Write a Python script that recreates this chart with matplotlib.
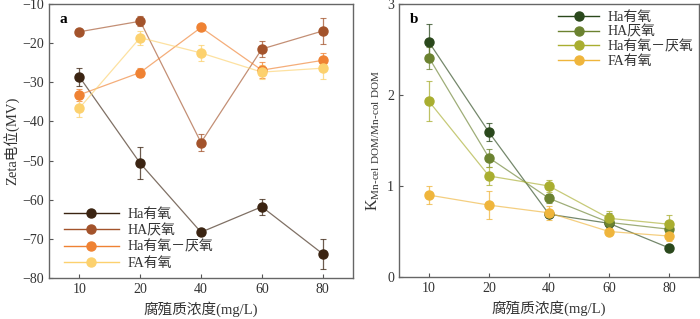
import matplotlib
matplotlib.use("Agg")
import matplotlib.pyplot as plt
from matplotlib.lines import Line2D
import numpy as np

plt.rcParams['font.family'] = ['Liberation Serif', 'Noto Sans CJK SC', 'DejaVu Sans']
plt.rcParams['mathtext.fontset'] = 'custom'
plt.rcParams['mathtext.rm'] = 'Liberation Serif'

conc = ['10', '20', '40', '60', '80']
labels_a = ['Ha有氧', 'HA厌氧', 'Ha有氧－厌氧', 'FA有氧']
labels_b = ['Ha有氧', 'HA厌氧', 'Ha有氧－厌氧', 'FA有氧']

zeta_ha_oxic = [-28.6, -50.7, -68.3, -61.8, -73.8]
zeta_ha_oxic_err = [2.3, 4.1, 0.7, 2.0, 3.8]
zeta_ha_anoxic = [-17.1, -14.4, -45.4, -21.5, -16.9]
zeta_ha_anoxic_err = [0.5, 1.3, 2.1, 2.0, 3.3]
zeta_ha_mix = [-33.2, -27.5, -16.0, -26.9, -24.4]
zeta_ha_mix_err = [1.5, 1.2, 0.5, 2.0, 1.8]
zeta_fa_oxic = [-36.6, -18.6, -22.5, -27.4, -26.4]
zeta_fa_oxic_err = [2.3, 1.8, 2.0, 1.8, 2.8]

k_ha_oxic = [2.58, 1.59, 0.69, 0.59, 0.32]
k_ha_oxic_err = [0.20, 0.10, 0.02, 0.05, 0.03]
k_ha_anoxic = [2.41, 1.31, 0.865, 0.60, 0.525]
k_ha_anoxic_err = [0.12, 0.10, 0.05, 0.10, 0.05]
k_ha_mix = [1.93, 1.11, 1.00, 0.645, 0.58]
k_ha_mix_err = [0.22, 0.10, 0.07, 0.08, 0.10]
k_fa_oxic = [0.90, 0.79, 0.705, 0.50, 0.45]
k_fa_oxic_err = [0.10, 0.15, 0.08, 0.03, 0.05]

colors_a = ['#3b2412', '#a3532b', '#ef8233', '#fcd16e']
colors_b = ['#2a481c', '#6b8230', '#a9ae30', '#efb53c']

fig = plt.figure(figsize=(7.0, 3.19), dpi=100)
ax1 = fig.add_axes([49/700, 41/319, 304/700, 274/319])
ax2 = fig.add_axes([399/700, 42/319, 300/700, 273/319])

x = np.arange(len(conc))

def draw(ax, series, errs, cols, labels):
    handles = []
    for y, e, c, lab in zip(series, errs, cols, labels):
        ax.plot(x, y, color=c, linewidth=0.9, alpha=0.65, zorder=2)
        ax.errorbar(x, y, yerr=e, fmt='none', ecolor=c, elinewidth=0.9,
                    capsize=2, capthick=0.8, alpha=0.75, zorder=2)
        ax.plot(x, y, linestyle='none', marker='o', markersize=6.5,
                color=c, zorder=3)
        handles.append(Line2D([], [], color=c, marker='o', markersize=6.5,
                              linewidth=1.0, label=lab,
                              markerfacecolor=c, markeredgecolor=c))
    ax.set_xticks(x)
    ax.set_xticklabels(conc)
    ax.set_xlim(-0.5, len(conc) - 0.5)
    ax.tick_params(direction='in', labelsize=10, length=3, color='#555555',
                   labelcolor='#333333')
    for s in ax.spines.values():
        s.set_color('#666666')
        s.set_linewidth(1.0)
    ax.set_xlabel('腐殖质浓度(mg/L)', fontsize=10.5, color='#333333')
    return handles

h1 = draw(ax1, [zeta_ha_oxic, zeta_ha_anoxic, zeta_ha_mix, zeta_fa_oxic],
          [zeta_ha_oxic_err, zeta_ha_anoxic_err, zeta_ha_mix_err, zeta_fa_oxic_err],
          colors_a, labels_a)
ax1.set_ylim(-80, -10)
ax1.set_yticks(np.arange(-80, -9, 10))
ax1.set_ylabel('Zeta电位(MV)', fontsize=10.5, color='#333333', labelpad=2)
ax1.text(0.035, 0.93, 'a', transform=ax1.transAxes, fontweight='bold', fontsize=11)
leg1 = ax1.legend(handles=h1, loc='lower left', bbox_to_anchor=(0.03, 0.01),
                  frameon=False, fontsize=10, handlelength=4.0, handletextpad=0.6,
                  labelspacing=0.22, borderaxespad=0)
for t in leg1.get_texts():
    t.set_color('#333333')

h2 = draw(ax2, [k_ha_oxic, k_ha_anoxic, k_ha_mix, k_fa_oxic],
          [k_ha_oxic_err, k_ha_anoxic_err, k_ha_mix_err, k_fa_oxic_err],
          colors_b, labels_b)
ax2.set_ylim(0, 3)
ax2.set_yticks([0, 1, 2, 3])
ax2.set_ylabel(r'K$_{\mathrm{Mn\text{-}cel\ DOM/Mn\text{-}col\ DOM}}$', fontsize=11.5,
               color='#333333', labelpad=4)
ax2.text(0.035, 0.93, 'b', transform=ax2.transAxes, fontweight='bold', fontsize=11)
leg2 = ax2.legend(handles=h2, loc='upper right', bbox_to_anchor=(1.0, 0.995),
                  frameon=False, fontsize=10, handlelength=3.0, handletextpad=0.6,
                  labelspacing=0.1, borderaxespad=0)
for t in leg2.get_texts():
    t.set_color('#333333')

fig.savefig('out.png', dpi=100)
